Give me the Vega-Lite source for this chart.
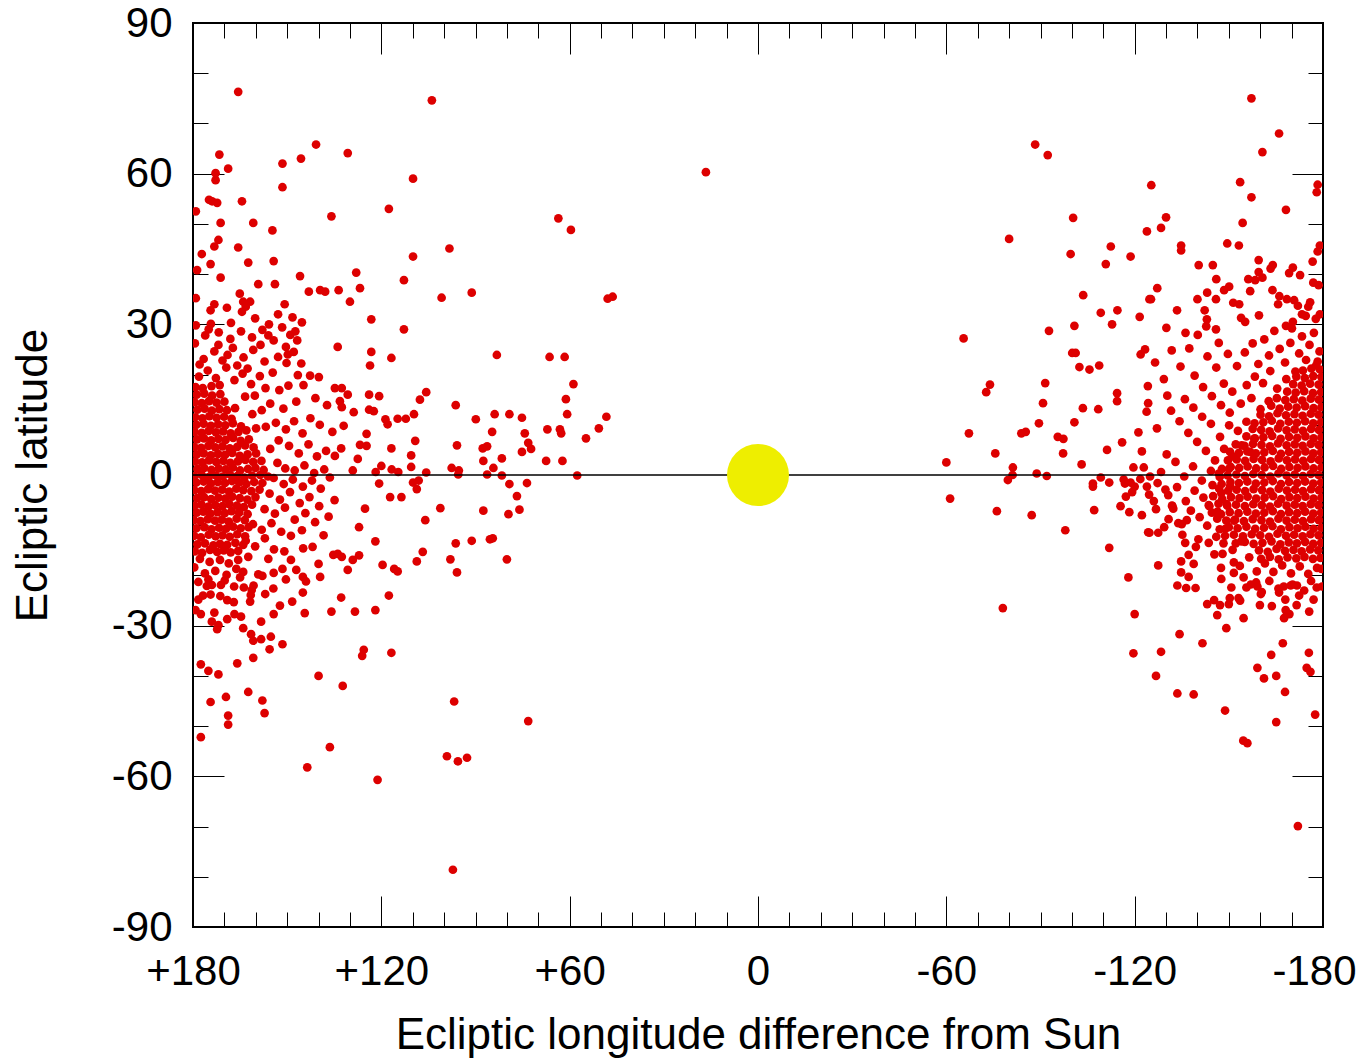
{
"$schema":"https://vega.github.io/schema/vega-lite/v6.json",
"width":1130,"height":904,
"autosize":"none",
"padding":{"left":193,"top":23,"right":41,"bottom":133},
"background":"white",
"config":{"view":{"stroke":"#000","strokeWidth":2},"axis":{"grid":false,"domain":false,"tickColor":"#000","tickWidth":1,"labelFont":"Liberation Sans","labelFontSize":42,"labelColor":"#000","titleFont":"Liberation Sans","titleFontSize":44,"titleFontWeight":"normal","titleColor":"#000","labelOverlap":false,"labelFlush":false}},
"resolve":{"axis":{"x":"independent","y":"independent"}},
"layer":[
{"data":{"values":[
{"lon":165.6,"lat":76.3},{"lon":103.9,"lat":74.6},{"lon":171.6,"lat":63.8},{"lon":140.8,"lat":65.8},{"lon":130.7,"lat":64.1},{"lon":145.6,"lat":63.0},{"lon":151.5,"lat":62.0},{"lon":172.8,"lat":60.1},{"lon":172.8,"lat":58.7},{"lon":168.8,"lat":61.0},{"lon":109.9,"lat":59.0},{"lon":151.5,"lat":57.3},{"lon":174.9,"lat":54.8},{"lon":173.9,"lat":54.5},{"lon":172.3,"lat":54.2},{"lon":164.4,"lat":54.5},{"lon":179.1,"lat":52.5},{"lon":135.9,"lat":51.5},{"lon":117.6,"lat":53.0},{"lon":171.2,"lat":50.2},{"lon":160.8,"lat":50.2},{"lon":154.7,"lat":48.7},{"lon":171.9,"lat":46.8},{"lon":173.2,"lat":45.5},{"lon":165.6,"lat":45.3},{"lon":177.2,"lat":44.0},{"lon":174.4,"lat":42.0},{"lon":162.4,"lat":42.3},{"lon":154.3,"lat":42.6},{"lon":109.9,"lat":43.5},{"lon":178.7,"lat":40.8},{"lon":171.2,"lat":39.3},{"lon":145.9,"lat":39.6},{"lon":128.0,"lat":40.3},{"lon":112.8,"lat":38.8},{"lon":159.2,"lat":38.0},{"lon":153.9,"lat":38.0},{"lon":143.1,"lat":36.5},{"lon":139.5,"lat":36.8},{"lon":137.9,"lat":36.5},{"lon":133.6,"lat":36.8},{"lon":126.8,"lat":37.2},{"lon":165.1,"lat":36.1},{"lon":179.1,"lat":35.2},{"lon":164.0,"lat":34.5},{"lon":161.8,"lat":34.5},{"lon":163.2,"lat":33.5},{"lon":173.2,"lat":34.0},{"lon":174.4,"lat":32.8},{"lon":169.2,"lat":33.3},{"lon":164.4,"lat":32.5},{"lon":150.8,"lat":34.0},{"lon":130.0,"lat":34.5},{"lon":123.2,"lat":31.0},{"lon":112.8,"lat":29.0},{"lon":133.9,"lat":25.5},{"lon":123.2,"lat":24.5},{"lon":123.6,"lat":21.8},{"lon":116.8,"lat":23.3},{"lon":146.8,"lat":26.8},{"lon":150.4,"lat":25.5},{"lon":149.8,"lat":24.0},{"lon":147.9,"lat":24.5},{"lon":145.5,"lat":22.2},{"lon":142.7,"lat":19.8},{"lon":139.9,"lat":19.5},{"lon":105.7,"lat":16.5},{"lon":107.7,"lat":15.0},{"lon":134.8,"lat":17.3},{"lon":132.6,"lat":17.3},{"lon":130.7,"lat":16.0},{"lon":123.9,"lat":16.0},{"lon":120.7,"lat":15.7},{"lon":133.2,"lat":14.7},{"lon":132.6,"lat":13.5},{"lon":128.8,"lat":12.5},{"lon":123.9,"lat":13.0},{"lon":122.4,"lat":12.7},{"lon":118.7,"lat":11.1},{"lon":118.0,"lat":10.1},{"lon":114.8,"lat":11.2},{"lon":112.2,"lat":11.2},{"lon":109.6,"lat":12.1},{"lon":132.0,"lat":9.8},{"lon":124.7,"lat":8.2},{"lon":109.2,"lat":6.8},{"lon":126.8,"lat":6.0},{"lon":124.7,"lat":5.8},{"lon":116.8,"lat":5.3},{"lon":132.8,"lat":5.3},{"lon":110.5,"lat":3.9},{"lon":134.8,"lat":3.8},{"lon":127.5,"lat":3.2},{"lon":120.0,"lat":1.8},{"lon":116.7,"lat":1.1},{"lon":114.6,"lat":0.6},{"lon":110.5,"lat":1.6},{"lon":129.1,"lat":0.9},{"lon":121.8,"lat":0.6},{"lon":105.7,"lat":0.5},
{"lon":120.7,"lat":-1.7},{"lon":109.9,"lat":-1.5},{"lon":108.1,"lat":-1.1},{"lon":108.7,"lat":-2.8},{"lon":117.2,"lat":-4.4},{"lon":113.6,"lat":-4.4},{"lon":125.2,"lat":-6.7},{"lon":106.0,"lat":-9.0},{"lon":127.1,"lat":-10.4},{"lon":121.9,"lat":-13.2},{"lon":106.8,"lat":-15.3},{"lon":108.7,"lat":-17.2},{"lon":119.6,"lat":-17.9},{"lon":115.9,"lat":-18.7},{"lon":114.8,"lat":-19.2},{"lon":135.3,"lat":-15.9},{"lon":133.9,"lat":-15.7},{"lon":132.6,"lat":-16.3},{"lon":129.1,"lat":-16.9},{"lon":127.1,"lat":-16.0},{"lon":130.7,"lat":-18.9},{"lon":140.0,"lat":-17.7},{"lon":139.5,"lat":-20.3},{"lon":145.0,"lat":-20.3},{"lon":144.0,"lat":-21.2},{"lon":145.0,"lat":-23.4},{"lon":148.4,"lat":-25.2},{"lon":132.8,"lat":-24.4},{"lon":117.6,"lat":-24.0},{"lon":144.4,"lat":-27.5},{"lon":135.9,"lat":-27.2},{"lon":128.4,"lat":-27.2},{"lon":121.9,"lat":-26.9},{"lon":148.8,"lat":-16.9},{"lon":151.5,"lat":-18.7},{"lon":154.3,"lat":-19.5},{"lon":156.0,"lat":-16.7},{"lon":159.2,"lat":-19.8},{"lon":157.9,"lat":-20.1},{"lon":164.0,"lat":-19.3},{"lon":165.0,"lat":-20.4},{"lon":160.7,"lat":-22.0},{"lon":161.3,"lat":-22.9},{"lon":161.6,"lat":-23.9},{"lon":161.8,"lat":-25.2},{"lon":169.9,"lat":-21.0},{"lon":171.1,"lat":-21.9},{"lon":175.6,"lat":-22.1},{"lon":174.0,"lat":-21.9},{"lon":174.4,"lat":-23.8},{"lon":178.3,"lat":-24.8},{"lon":169.1,"lat":-24.9},{"lon":177.5,"lat":-27.7},{"lon":173.2,"lat":-27.4},{"lon":174.0,"lat":-29.2},{"lon":171.9,"lat":-29.9},{"lon":172.3,"lat":-30.7},{"lon":169.1,"lat":-28.7},{"lon":166.8,"lat":-27.7},{"lon":164.7,"lat":-28.2},{"lon":158.3,"lat":-29.2},{"lon":154.3,"lat":-27.7},{"lon":164.0,"lat":-30.5},{"lon":161.5,"lat":-31.7},{"lon":160.8,"lat":-33.0},{"lon":158.3,"lat":-32.7},{"lon":155.2,"lat":-32.2},{"lon":151.5,"lat":-33.7},{"lon":155.6,"lat":-34.7},{"lon":160.8,"lat":-36.4},{"lon":165.9,"lat":-37.5},{"lon":177.5,"lat":-37.7},{"lon":175.1,"lat":-39.0},{"lon":171.9,"lat":-39.7},{"lon":140.0,"lat":-40.0},{"lon":132.3,"lat":-42.0},{"lon":125.6,"lat":-34.8},{"lon":126.1,"lat":-36.0},{"lon":116.8,"lat":-35.4},{"lon":162.4,"lat":-43.2},{"lon":157.9,"lat":-44.9},{"lon":157.2,"lat":-47.4},{"lon":169.5,"lat":-44.2},{"lon":174.4,"lat":-45.2},{"lon":168.8,"lat":-47.9},{"lon":168.8,"lat":-49.7},{"lon":177.5,"lat":-52.2},{"lon":136.4,"lat":-54.2},{"lon":143.6,"lat":-58.2},{"lon":121.2,"lat":-60.7},
{"lon":63.6,"lat":51.1},{"lon":59.6,"lat":48.8},{"lon":98.3,"lat":45.1},{"lon":100.8,"lat":35.3},{"lon":91.2,"lat":36.3},{"lon":47.9,"lat":35.1},{"lon":46.3,"lat":35.5},{"lon":83.2,"lat":23.9},{"lon":66.4,"lat":23.5},{"lon":61.6,"lat":23.5},{"lon":58.8,"lat":18.1},{"lon":96.3,"lat":13.9},{"lon":61.2,"lat":15.1},{"lon":60.8,"lat":12.1},{"lon":89.9,"lat":11.1},{"lon":83.9,"lat":12.1},{"lon":79.2,"lat":12.1},{"lon":75.2,"lat":11.4},{"lon":84.7,"lat":8.6},{"lon":74.3,"lat":8.3},{"lon":67.1,"lat":9.1},{"lon":63.1,"lat":9.1},{"lon":62.7,"lat":8.3},{"lon":48.3,"lat":11.6},{"lon":50.7,"lat":9.3},{"lon":54.8,"lat":7.3},{"lon":95.9,"lat":5.9},{"lon":87.7,"lat":5.3},{"lon":86.3,"lat":5.7},{"lon":73.2,"lat":6.4},{"lon":72.3,"lat":5.2},{"lon":75.2,"lat":4.6},{"lon":87.5,"lat":2.8},{"lon":81.6,"lat":3.3},{"lon":67.5,"lat":2.8},{"lon":62.3,"lat":2.8},{"lon":97.6,"lat":1.4},{"lon":95.3,"lat":0.9},{"lon":95.5,"lat":0.1},{"lon":84.3,"lat":1.4},{"lon":86.3,"lat":0.1},{"lon":81.6,"lat":-0.1},{"lon":57.6,"lat":-0.1},{"lon":79.2,"lat":-1.8},{"lon":73.6,"lat":-1.6},{"lon":76.8,"lat":-4.2},{"lon":76.0,"lat":-6.9},{"lon":101.2,"lat":-6.6},{"lon":87.5,"lat":-7.1},{"lon":79.5,"lat":-7.8},{"lon":96.3,"lat":-13.6},{"lon":91.2,"lat":-13.1},{"lon":85.4,"lat":-12.8},{"lon":84.5,"lat":-12.6},{"lon":98.0,"lat":-16.8},{"lon":95.9,"lat":-19.4},{"lon":80.0,"lat":-16.8},{"lon":96.8,"lat":-45.1},{"lon":73.2,"lat":-49.0},{"lon":99.1,"lat":-56.0},{"lon":95.6,"lat":-57.0},{"lon":92.7,"lat":-56.3},{"lon":97.2,"lat":-78.6},{"lon":16.6,"lat":60.3},
{"lon":-88.3,"lat":65.8},{"lon":-92.3,"lat":63.7},{"lon":-125.3,"lat":57.7},{"lon":-100.4,"lat":51.2},{"lon":-80.0,"lat":47.0},{"lon":-123.9,"lat":48.5},{"lon":-99.6,"lat":44.0},{"lon":-110.8,"lat":42.0},{"lon":-112.4,"lat":45.5},{"lon":-118.7,"lat":43.5},{"lon":-103.6,"lat":35.8},{"lon":-124.7,"lat":35.0},{"lon":-109.2,"lat":32.3},{"lon":-114.5,"lat":32.8},{"lon":-112.8,"lat":30.0},{"lon":-121.6,"lat":31.5},{"lon":-100.8,"lat":29.7},{"lon":-92.7,"lat":28.7},{"lon":-65.5,"lat":27.2},{"lon":-100.1,"lat":24.3},{"lon":-101.2,"lat":24.3},{"lon":-102.4,"lat":21.5},{"lon":-105.6,"lat":21.0},{"lon":-108.7,"lat":21.8},{"lon":-121.9,"lat":24.0},{"lon":-123.3,"lat":25.0},{"lon":-73.9,"lat":18.0},{"lon":-72.7,"lat":16.5},{"lon":-91.5,"lat":18.3},{"lon":-90.8,"lat":14.3},{"lon":-114.4,"lat":16.3},{"lon":-114.4,"lat":14.7},{"lon":-103.5,"lat":13.3},{"lon":-108.4,"lat":13.1},{"lon":-124.3,"lat":14.3},{"lon":-123.8,"lat":12.6},{"lon":-67.2,"lat":8.3},{"lon":-83.9,"lat":8.3},{"lon":-85.3,"lat":8.6},{"lon":-89.5,"lat":10.3},{"lon":-100.8,"lat":10.5},{"lon":-95.5,"lat":7.6},{"lon":-97.3,"lat":7.2},{"lon":-121.2,"lat":8.5},{"lon":-116.0,"lat":6.5},{"lon":-75.6,"lat":4.3},{"lon":-97.2,"lat":4.3},{"lon":-111.2,"lat":5.0},{"lon":-122.3,"lat":4.7},{"lon":-60.0,"lat":2.5},{"lon":-81.2,"lat":1.5},{"lon":-81.1,"lat":0.0},{"lon":-79.6,"lat":-1.0},{"lon":-88.8,"lat":0.3},{"lon":-92.0,"lat":-0.2},{"lon":-103.1,"lat":2.1},{"lon":-109.2,"lat":-0.5},{"lon":-111.9,"lat":-1.5},{"lon":-106.7,"lat":-1.7},{"lon":-106.7,"lat":-2.3},{"lon":-119.6,"lat":1.5},{"lon":-122.9,"lat":1.5},{"lon":-124.9,"lat":-0.3},{"lon":-116.9,"lat":-1.7},{"lon":-118.7,"lat":-1.5},{"lon":-120.0,"lat":-2.3},{"lon":-117.2,"lat":-4.3},{"lon":-115.5,"lat":-6.2},{"lon":-118.3,"lat":-7.4},{"lon":-122.3,"lat":-8.0},{"lon":-124.3,"lat":-11.4},{"lon":-123.9,"lat":-2.3},{"lon":-61.2,"lat":-4.7},{"lon":-76.1,"lat":-7.2},{"lon":-87.2,"lat":-8.0},{"lon":-107.1,"lat":-7.0},{"lon":-97.9,"lat":-11.0},{"lon":-111.9,"lat":-14.5},{"lon":-118.0,"lat":-20.4},{"lon":-78.0,"lat":-26.5},{"lon":-120.0,"lat":-27.7},{"lon":-119.6,"lat":-35.5},
{"lon":-157.2,"lat":75.0},{"lon":-166.0,"lat":68.0},{"lon":-160.7,"lat":64.3},{"lon":-153.6,"lat":58.3},{"lon":-157.2,"lat":55.3},{"lon":-178.3,"lat":57.8},{"lon":-178.0,"lat":56.3},{"lon":-168.2,"lat":52.8},{"lon":-130.0,"lat":51.3},{"lon":-128.4,"lat":49.2},{"lon":-154.4,"lat":50.2},{"lon":-134.8,"lat":45.7},{"lon":-134.8,"lat":44.7},{"lon":-149.5,"lat":46.1},{"lon":-153.2,"lat":45.7},{"lon":-179.0,"lat":45.7},{"lon":-178.3,"lat":44.5},{"lon":-176.7,"lat":42.5},{"lon":-159.5,"lat":42.8},{"lon":-163.3,"lat":41.1},{"lon":-164.0,"lat":41.8},{"lon":-140.4,"lat":41.8},{"lon":-144.9,"lat":41.8},{"lon":-146.0,"lat":39.0},{"lon":-156.2,"lat":39.0},{"lon":-158.4,"lat":38.8},{"lon":-159.5,"lat":40.4},{"lon":-160.7,"lat":39.3},{"lon":-169.2,"lat":40.2},{"lon":-170.4,"lat":41.3},{"lon":-172.7,"lat":39.8},{"lon":-176.9,"lat":38.3},{"lon":-178.6,"lat":37.8},{"lon":-127.2,"lat":37.2},{"lon":-125.2,"lat":35.0},{"lon":-140.0,"lat":35.0},{"lon":-143.1,"lat":36.3},{"lon":-145.9,"lat":35.0},{"lon":-148.5,"lat":36.8},{"lon":-150.1,"lat":37.5},{"lon":-156.8,"lat":36.6},{"lon":-163.9,"lat":36.8},{"lon":-166.1,"lat":35.6},{"lon":-165.7,"lat":34.0},{"lon":-168.5,"lat":35.0},{"lon":-170.8,"lat":34.8},{"lon":-172.0,"lat":33.7},{"lon":-175.9,"lat":34.4},{"lon":-175.3,"lat":33.5},{"lon":-133.5,"lat":32.8},{"lon":-142.3,"lat":32.8},{"lon":-143.0,"lat":31.0},{"lon":-151.4,"lat":34.3},{"lon":-153.3,"lat":34.0},{"lon":-153.9,"lat":31.3},{"lon":-155.2,"lat":30.5},{"lon":-159.6,"lat":31.8},{"lon":-173.3,"lat":32.0},{"lon":-174.5,"lat":31.7},{"lon":-177.7,"lat":31.1},{"lon":-179.0,"lat":32.0},{"lon":-130.1,"lat":29.3},{"lon":-145.9,"lat":29.0},{"lon":-168.2,"lat":29.7},{"lon":-170.4,"lat":30.5},
{"lon":-127.5,"lat":-18.0},{"lon":-128.4,"lat":-35.2},{"lon":-134.3,"lat":-31.7},{"lon":-141.6,"lat":-33.5},{"lon":-126.8,"lat":-40.0},{"lon":-133.6,"lat":-43.5},{"lon":-138.8,"lat":-43.7},{"lon":-148.8,"lat":-46.9},{"lon":-154.6,"lat":-52.9},{"lon":-155.9,"lat":-53.4},{"lon":-165.1,"lat":-49.2},{"lon":-167.9,"lat":-43.2},{"lon":-159.1,"lat":-38.4},{"lon":-161.2,"lat":-40.5},{"lon":-165.1,"lat":-40.0},{"lon":-163.5,"lat":-35.8},{"lon":-167.2,"lat":-33.5},{"lon":-175.5,"lat":-35.4},{"lon":-174.8,"lat":-38.4},{"lon":-176.0,"lat":-39.2},{"lon":-177.5,"lat":-47.7},{"lon":-172.0,"lat":-69.9},{"lon":-146.3,"lat":-27.9},{"lon":-149.2,"lat":-30.5},{"lon":-154.7,"lat":-28.5},{"lon":-143.1,"lat":-25.7},{"lon":-145.3,"lat":-24.9},{"lon":-147.2,"lat":-25.9},{"lon":-150.0,"lat":-25.7},{"lon":-159.9,"lat":-25.9},{"lon":-167.6,"lat":-28.5},{"lon":-169.3,"lat":-27.7},{"lon":-168.1,"lat":-26.9},{"lon":-171.6,"lat":-25.9},{"lon":-172.4,"lat":-24.0},{"lon":-133.6,"lat":-22.0},{"lon":-136.4,"lat":-22.5},{"lon":-139.4,"lat":-22.5},{"lon":-137.2,"lat":-20.3},{"lon":-134.8,"lat":-19.4},{"lon":-134.8,"lat":-17.2},{"lon":-138.8,"lat":-17.7},{"lon":-137.2,"lat":-15.9},{"lon":-147.5,"lat":-18.5},{"lon":-147.6,"lat":-20.7},{"lon":-148.0,"lat":-15.7},{"lon":-151.6,"lat":-17.4},{"lon":-151.6,"lat":-19.5},{"lon":-150.8,"lat":-22.4},{"lon":-155.6,"lat":-22.4},{"lon":-154.7,"lat":-20.4},{"lon":-153.1,"lat":-24.5},{"lon":-150.3,"lat":-24.5},{"lon":-153.6,"lat":-25.0},{"lon":-159.1,"lat":-22.2},{"lon":-160.2,"lat":-23.7},{"lon":-158.7,"lat":-21.4},{"lon":-143.6,"lat":-13.5},{"lon":-139.5,"lat":-14.3},{"lon":-135.2,"lat":-11.9},{"lon":-136.1,"lat":-13.5},{"lon":-124.7,"lat":-11.5},{"lon":-127.5,"lat":-11.5},{"lon":-129.4,"lat":-10.4},{"lon":-130.8,"lat":-8.8},{"lon":-133.9,"lat":-9.6},{"lon":-136.6,"lat":-9.0},{"lon":-126.8,"lat":-6.8},{"lon":-132.0,"lat":-6.2},{"lon":-166.0,"lat":-23.4},{"lon":-168.0,"lat":-24.8},{"lon":-167.5,"lat":-22.2},{"lon":-169.7,"lat":-22.0},{"lon":-171.7,"lat":-22.0},{"lon":-176.2,"lat":-21.1},{"lon":-178.0,"lat":-22.4},{"lon":-179.7,"lat":-22.2},{"lon":-179.5,"lat":-18.7},
{"lon":179.4,"lat":-15.2},{"lon":177.1,"lat":-15.5},{"lon":174.6,"lat":-14.9},{"lon":172.3,"lat":-15.3},{"lon":170.2,"lat":-15.0},{"lon":168.0,"lat":-15.4},{"lon":165.6,"lat":-15.1},
{"lon":178.6,"lat":-13.8},{"lon":176.2,"lat":-13.6},{"lon":173.5,"lat":-14.0},{"lon":171.4,"lat":-13.7},{"lon":169.1,"lat":-13.9},{"lon":166.5,"lat":-13.5},{"lon":164.0,"lat":-13.9},
{"lon":179.6,"lat":-12.1},{"lon":177.5,"lat":-12.4},{"lon":175.0,"lat":-11.9},{"lon":172.8,"lat":-12.2},{"lon":170.6,"lat":-12.0},{"lon":168.3,"lat":-12.3},{"lon":165.9,"lat":-11.8},{"lon":163.4,"lat":-12.2},
{"lon":178.9,"lat":-10.6},{"lon":176.4,"lat":-10.4},{"lon":174.1,"lat":-10.8},{"lon":171.7,"lat":-10.5},{"lon":169.5,"lat":-10.7},{"lon":167.2,"lat":-10.3},{"lon":164.8,"lat":-10.6},{"lon":162.3,"lat":-10.4},
{"lon":179.7,"lat":-9.0},{"lon":177.6,"lat":-9.2},{"lon":175.3,"lat":-8.8},{"lon":173.0,"lat":-9.1},{"lon":170.8,"lat":-8.9},{"lon":168.6,"lat":-9.3},{"lon":166.1,"lat":-8.7},{"lon":163.5,"lat":-9.0},
{"lon":178.8,"lat":-7.5},{"lon":176.7,"lat":-7.3},{"lon":174.5,"lat":-7.7},{"lon":172.2,"lat":-7.4},{"lon":169.9,"lat":-7.6},{"lon":167.7,"lat":-7.2},{"lon":165.3,"lat":-7.5},{"lon":162.6,"lat":-7.8},
{"lon":179.5,"lat":-6.1},{"lon":177.3,"lat":-5.9},{"lon":175.1,"lat":-6.3},{"lon":172.9,"lat":-6.0},{"lon":170.6,"lat":-6.2},{"lon":168.4,"lat":-5.8},{"lon":166.0,"lat":-6.1},{"lon":163.8,"lat":-6.4},{"lon":161.2,"lat":-5.9},
{"lon":178.7,"lat":-4.6},{"lon":176.5,"lat":-4.4},{"lon":174.2,"lat":-4.8},{"lon":171.9,"lat":-4.5},{"lon":169.7,"lat":-4.7},{"lon":167.5,"lat":-4.3},{"lon":165.1,"lat":-4.6},{"lon":162.7,"lat":-4.9},{"lon":160.1,"lat":-4.4},
{"lon":179.6,"lat":-3.0},{"lon":177.4,"lat":-3.2},{"lon":175.2,"lat":-2.8},{"lon":173.0,"lat":-3.1},{"lon":170.7,"lat":-2.9},{"lon":168.5,"lat":-3.3},{"lon":166.2,"lat":-2.7},{"lon":164.0,"lat":-3.0},{"lon":161.4,"lat":-3.2},{"lon":158.8,"lat":-2.9},
{"lon":178.9,"lat":-1.5},{"lon":176.6,"lat":-1.3},{"lon":174.3,"lat":-1.7},{"lon":172.1,"lat":-1.4},{"lon":169.8,"lat":-1.6},{"lon":167.6,"lat":-1.2},{"lon":165.3,"lat":-1.5},{"lon":163.0,"lat":-1.8},{"lon":160.5,"lat":-1.4},{"lon":157.9,"lat":-1.6},
{"lon":179.5,"lat":-0.2},{"lon":177.2,"lat":0.0},{"lon":175.0,"lat":-0.4},{"lon":172.7,"lat":-0.1},{"lon":170.5,"lat":-0.3},{"lon":168.2,"lat":0.1},{"lon":165.9,"lat":-0.2},{"lon":163.6,"lat":-0.5},{"lon":161.2,"lat":-0.1},{"lon":158.6,"lat":0.0},{"lon":156.1,"lat":-0.3},
{"lon":178.6,"lat":1.2},{"lon":176.4,"lat":1.4},{"lon":174.1,"lat":1.0},{"lon":171.8,"lat":1.3},{"lon":169.6,"lat":1.1},{"lon":167.3,"lat":1.5},{"lon":165.0,"lat":0.9},{"lon":162.5,"lat":1.2},{"lon":160.1,"lat":1.4},{"lon":157.5,"lat":1.0},
{"lon":179.4,"lat":2.7},{"lon":177.1,"lat":2.5},{"lon":174.9,"lat":2.9},{"lon":172.6,"lat":2.6},{"lon":170.3,"lat":2.8},{"lon":168.1,"lat":2.4},{"lon":165.7,"lat":2.7},{"lon":163.3,"lat":3.0},{"lon":160.8,"lat":2.6},{"lon":158.2,"lat":2.8},
{"lon":178.8,"lat":4.1},{"lon":176.6,"lat":4.3},{"lon":174.3,"lat":3.9},{"lon":172.0,"lat":4.2},{"lon":169.8,"lat":4.0},{"lon":167.5,"lat":4.4},{"lon":165.1,"lat":3.8},{"lon":162.6,"lat":4.1},{"lon":159.9,"lat":4.3},
{"lon":179.6,"lat":5.6},{"lon":177.4,"lat":5.4},{"lon":175.1,"lat":5.8},{"lon":172.9,"lat":5.5},{"lon":170.6,"lat":5.7},{"lon":168.3,"lat":5.3},{"lon":165.9,"lat":5.6},{"lon":163.4,"lat":5.9},{"lon":160.7,"lat":5.5},
{"lon":178.7,"lat":7.1},{"lon":176.5,"lat":7.3},{"lon":174.2,"lat":6.9},{"lon":171.9,"lat":7.2},{"lon":169.6,"lat":7.0},{"lon":167.2,"lat":7.4},{"lon":164.8,"lat":6.8},{"lon":162.2,"lat":7.1},
{"lon":179.5,"lat":8.6},{"lon":177.2,"lat":8.4},{"lon":175.0,"lat":8.8},{"lon":172.7,"lat":8.5},{"lon":170.4,"lat":8.7},{"lon":168.0,"lat":8.3},{"lon":165.5,"lat":8.6},{"lon":163.0,"lat":8.9},
{"lon":178.9,"lat":10.0},{"lon":176.6,"lat":10.2},{"lon":174.3,"lat":9.8},{"lon":172.0,"lat":10.1},{"lon":169.7,"lat":9.9},{"lon":167.3,"lat":10.3},{"lon":164.7,"lat":9.7},
{"lon":179.3,"lat":11.5},{"lon":177.0,"lat":11.3},{"lon":174.8,"lat":11.7},{"lon":172.5,"lat":11.4},{"lon":170.1,"lat":11.6},{"lon":167.7,"lat":11.2},
{"lon":178.6,"lat":13.0},{"lon":176.3,"lat":13.2},{"lon":174.0,"lat":12.8},{"lon":171.6,"lat":13.1},{"lon":169.2,"lat":12.9},{"lon":166.6,"lat":13.3},
{"lon":179.5,"lat":14.5},{"lon":177.2,"lat":14.3},{"lon":174.9,"lat":14.7},{"lon":172.5,"lat":14.4},{"lon":170.0,"lat":14.6},
{"lon":178.8,"lat":16.0},{"lon":176.4,"lat":16.2},{"lon":173.9,"lat":15.8},{"lon":171.3,"lat":16.1},
{"lon":179.2,"lat":17.5},{"lon":176.9,"lat":17.3},{"lon":174.1,"lat":17.7},{"lon":171.5,"lat":17.9},
{"lon":178.1,"lat":19.6},{"lon":175.3,"lat":20.8},{"lon":172.7,"lat":19.3},{"lon":169.4,"lat":21.4},{"lon":166.8,"lat":18.9},{"lon":164.2,"lat":20.2},{"lon":161.5,"lat":18.1},{"lon":158.7,"lat":19.7},{"lon":176.6,"lat":23.1},{"lon":173.2,"lat":24.6},{"lon":170.6,"lat":22.8},{"lon":167.3,"lat":25.3},{"lon":163.9,"lat":23.4},{"lon":160.8,"lat":24.9},{"lon":157.2,"lat":22.6},{"lon":154.6,"lat":20.4},{"lon":179.4,"lat":26.2},{"lon":176.1,"lat":27.8},{"lon":171.8,"lat":28.4},{"lon":168.1,"lat":27.1},{"lon":164.7,"lat":28.6},{"lon":161.2,"lat":27.4},{"lon":157.9,"lat":28.9},{"lon":154.3,"lat":26.8},{"lon":151.6,"lat":29.4},{"lon":179.1,"lat":29.8},{"lon":174.3,"lat":30.1},{"lon":167.9,"lat":30.3},{"lon":155.8,"lat":30.0},{"lon":160.2,"lat":31.2},{"lon":150.2,"lat":22.3},{"lon":152.5,"lat":16.9},{"lon":155.4,"lat":14.2},{"lon":158.1,"lat":12.9},{"lon":161.1,"lat":12.1},{"lon":163.4,"lat":15.6},{"lon":160.3,"lat":15.8},{"lon":156.9,"lat":17.3},{"lon":149.6,"lat":17.8},{"lon":147.1,"lat":14.6},{"lon":151.2,"lat":13.2},{"lon":153.6,"lat":10.4},{"lon":156.8,"lat":9.6},{"lon":159.9,"lat":9.3},{"lon":150.4,"lat":9.1},{"lon":147.8,"lat":10.7},{"lon":145.1,"lat":8.3},{"lon":142.6,"lat":11.3},{"lon":152.7,"lat":6.9},{"lon":155.4,"lat":5.2},{"lon":149.4,"lat":5.8},{"lon":146.3,"lat":4.3},{"lon":143.2,"lat":6.1},{"lon":140.5,"lat":3.7},{"lon":153.1,"lat":2.4},{"lon":150.6,"lat":1.3},{"lon":147.6,"lat":0.9},{"lon":144.5,"lat":1.9},{"lon":141.4,"lat":0.4},{"lon":138.2,"lat":1.1},{"lon":154.3,"lat":-0.6},{"lon":151.1,"lat":-1.8},{"lon":148.2,"lat":-0.9},{"lon":145.0,"lat":-2.3},{"lon":142.1,"lat":-1.1},{"lon":139.3,"lat":-2.7},{"lon":136.4,"lat":-0.5},{"lon":155.6,"lat":-3.7},{"lon":152.3,"lat":-4.9},{"lon":149.1,"lat":-3.4},{"lon":146.0,"lat":-5.6},{"lon":142.9,"lat":-4.4},{"lon":139.8,"lat":-6.2},{"lon":157.2,"lat":-6.8},{"lon":153.9,"lat":-7.7},{"lon":150.7,"lat":-6.5},{"lon":147.6,"lat":-8.9},{"lon":144.2,"lat":-7.6},{"lon":141.1,"lat":-9.4},{"lon":160.9,"lat":-9.8},{"lon":158.1,"lat":-10.9},{"lon":155.0,"lat":-9.6},{"lon":151.9,"lat":-11.3},{"lon":148.8,"lat":-12.1},{"lon":145.3,"lat":-11.0},{"lon":163.2,"lat":-13.1},{"lon":160.2,"lat":-14.2},{"lon":157.1,"lat":-12.6},{"lon":154.2,"lat":-14.8},{"lon":150.9,"lat":-15.2},{"lon":165.6,"lat":-16.9},{"lon":162.4,"lat":-16.3},{"lon":168.6,"lat":-17.6},{"lon":171.4,"lat":-16.9},{"lon":174.7,"lat":-17.3},{"lon":177.8,"lat":-16.7},{"lon":179.6,"lat":-18.4},{"lon":176.2,"lat":-19.6},{"lon":172.9,"lat":-19.1},{"lon":169.3,"lat":-19.9},{"lon":166.2,"lat":-18.7},{"lon":178.3,"lat":-21.3},{"lon":175.1,"lat":-20.8},
{"lon":177.9,"lat":22.0},{"lon":171.9,"lat":25.9},{"lon":165.9,"lat":21.8},{"lon":162.6,"lat":21.2},{"lon":169.0,"lat":23.9},{"lon":175.0,"lat":29.0},{"lon":158.5,"lat":25.9},{"lon":156.0,"lat":27.8},{"lon":152.9,"lat":23.5},{"lon":149.0,"lat":27.9},{"lon":147.4,"lat":28.6},{"lon":145.3,"lat":30.4},{"lon":152.9,"lat":32.0},{"lon":148.3,"lat":31.4},{"lon":163.8,"lat":-22.4},{"lon":166.9,"lat":-22.2},{"lon":171.3,"lat":-24.1},{"lon":176.8,"lat":-24.0},{"lon":179.2,"lat":-26.9},{"lon":167.0,"lat":-25.3},{"lon":157.0,"lat":-23.7},{"lon":154.4,"lat":-22.6},{"lon":150.4,"lat":-20.8},{"lon":152.3,"lat":-26.0},{"lon":147.1,"lat":-18.9},{"lon":141.9,"lat":-14.3},{"lon":138.4,"lat":-12.0},{"lon":144.9,"lat":-14.6},{"lon":136.8,"lat":-8.3},{"lon":134.9,"lat":-5.0},{"lon":137.6,"lat":4.8},{"lon":135.6,"lat":8.6},{"lon":139.6,"lat":10.0},{"lon":137.3,"lat":13.9},{"lon":141.0,"lat":15.3},{"lon":144.8,"lat":17.9},{"lon":146.6,"lat":19.9},
{"lon":-179.2,"lat":-16.5},{"lon":-176.8,"lat":-16.7},{"lon":-174.1,"lat":-16.3},{"lon":-171.5,"lat":-16.6},{"lon":-168.7,"lat":-16.4},{"lon":-165.9,"lat":-16.8},{"lon":-163.1,"lat":-16.3},{"lon":-160.3,"lat":-16.7},
{"lon":-178.5,"lat":-15.0},{"lon":-175.9,"lat":-14.8},{"lon":-173.2,"lat":-15.2},{"lon":-170.6,"lat":-14.9},{"lon":-167.9,"lat":-15.1},{"lon":-165.2,"lat":-14.7},{"lon":-162.4,"lat":-15.3},{"lon":-159.6,"lat":-15.0},
{"lon":-179.4,"lat":-13.5},{"lon":-176.9,"lat":-13.7},{"lon":-174.3,"lat":-13.3},{"lon":-171.7,"lat":-13.6},{"lon":-169.1,"lat":-13.4},{"lon":-166.4,"lat":-13.8},{"lon":-163.6,"lat":-13.2},{"lon":-160.7,"lat":-13.5},{"lon":-157.9,"lat":-13.7},{"lon":-155.1,"lat":-13.3},{"lon":-152.2,"lat":-13.6},
{"lon":-178.6,"lat":-12.0},{"lon":-176.0,"lat":-11.8},{"lon":-173.5,"lat":-12.2},{"lon":-170.8,"lat":-11.9},{"lon":-168.2,"lat":-12.1},{"lon":-165.5,"lat":-11.7},{"lon":-162.8,"lat":-12.3},{"lon":-160.0,"lat":-12.0},{"lon":-157.3,"lat":-11.8},{"lon":-154.5,"lat":-12.2},{"lon":-151.6,"lat":-11.9},{"lon":-148.8,"lat":-12.1},
{"lon":-179.5,"lat":-10.5},{"lon":-177.0,"lat":-10.7},{"lon":-174.4,"lat":-10.3},{"lon":-171.9,"lat":-10.6},{"lon":-169.3,"lat":-10.4},{"lon":-166.6,"lat":-10.8},{"lon":-163.9,"lat":-10.2},{"lon":-161.2,"lat":-10.5},{"lon":-158.4,"lat":-10.7},{"lon":-155.6,"lat":-10.3},{"lon":-152.8,"lat":-10.6},{"lon":-150.0,"lat":-10.4},{"lon":-147.1,"lat":-10.8},
{"lon":-178.7,"lat":-9.0},{"lon":-176.2,"lat":-8.8},{"lon":-173.6,"lat":-9.2},{"lon":-171.0,"lat":-8.9},{"lon":-168.4,"lat":-9.1},{"lon":-165.8,"lat":-8.7},{"lon":-163.1,"lat":-9.3},{"lon":-160.4,"lat":-9.0},{"lon":-157.6,"lat":-8.8},{"lon":-154.8,"lat":-9.2},{"lon":-152.0,"lat":-8.9},{"lon":-149.2,"lat":-9.1},{"lon":-146.3,"lat":-8.7},
{"lon":-179.4,"lat":-7.5},{"lon":-176.9,"lat":-7.7},{"lon":-174.3,"lat":-7.3},{"lon":-171.8,"lat":-7.6},{"lon":-169.2,"lat":-7.4},{"lon":-166.6,"lat":-7.8},{"lon":-164.0,"lat":-7.2},{"lon":-161.3,"lat":-7.5},{"lon":-158.6,"lat":-7.7},{"lon":-155.9,"lat":-7.3},{"lon":-153.1,"lat":-7.6},{"lon":-150.3,"lat":-7.4},{"lon":-147.5,"lat":-7.8},{"lon":-144.6,"lat":-7.5},
{"lon":-178.6,"lat":-6.0},{"lon":-176.1,"lat":-5.8},{"lon":-173.5,"lat":-6.2},{"lon":-171.0,"lat":-5.9},{"lon":-168.4,"lat":-6.1},{"lon":-165.7,"lat":-5.7},{"lon":-163.1,"lat":-6.3},{"lon":-160.5,"lat":-6.0},{"lon":-157.8,"lat":-5.8},{"lon":-155.1,"lat":-6.2},{"lon":-152.3,"lat":-5.9},{"lon":-149.5,"lat":-6.1},{"lon":-146.7,"lat":-5.7},{"lon":-143.8,"lat":-6.2},
{"lon":-179.5,"lat":-4.5},{"lon":-177.0,"lat":-4.7},{"lon":-174.4,"lat":-4.3},{"lon":-171.8,"lat":-4.6},{"lon":-169.3,"lat":-4.4},{"lon":-166.7,"lat":-4.8},{"lon":-164.1,"lat":-4.2},{"lon":-161.4,"lat":-4.5},{"lon":-158.7,"lat":-4.7},{"lon":-156.0,"lat":-4.3},{"lon":-153.4,"lat":-4.6},{"lon":-150.7,"lat":-4.4},{"lon":-147.9,"lat":-4.8},{"lon":-145.0,"lat":-4.2},
{"lon":-178.7,"lat":-3.0},{"lon":-176.2,"lat":-2.8},{"lon":-173.6,"lat":-3.2},{"lon":-171.1,"lat":-2.9},{"lon":-168.5,"lat":-3.1},{"lon":-165.9,"lat":-2.7},{"lon":-163.2,"lat":-3.3},{"lon":-160.6,"lat":-3.0},{"lon":-157.9,"lat":-2.8},{"lon":-155.2,"lat":-3.2},{"lon":-152.5,"lat":-2.9},{"lon":-149.8,"lat":-3.1},{"lon":-146.9,"lat":-2.7},
{"lon":-179.4,"lat":-1.5},{"lon":-176.9,"lat":-1.7},{"lon":-174.3,"lat":-1.3},{"lon":-171.8,"lat":-1.6},{"lon":-169.2,"lat":-1.4},{"lon":-166.6,"lat":-1.8},{"lon":-164.0,"lat":-1.2},{"lon":-161.3,"lat":-1.5},{"lon":-158.6,"lat":-1.7},{"lon":-155.9,"lat":-1.3},{"lon":-153.2,"lat":-1.6},{"lon":-150.5,"lat":-1.4},{"lon":-147.7,"lat":-1.8},
{"lon":-178.6,"lat":0.0},{"lon":-176.1,"lat":0.2},{"lon":-173.6,"lat":-0.2},{"lon":-171.0,"lat":0.1},{"lon":-168.4,"lat":-0.1},{"lon":-165.8,"lat":0.3},{"lon":-163.2,"lat":-0.3},{"lon":-160.5,"lat":0.0},{"lon":-157.8,"lat":0.2},{"lon":-155.1,"lat":-0.2},{"lon":-152.4,"lat":0.1},{"lon":-149.6,"lat":-0.1},{"lon":-146.8,"lat":0.3},
{"lon":-179.5,"lat":1.5},{"lon":-177.0,"lat":1.3},{"lon":-174.4,"lat":1.7},{"lon":-171.9,"lat":1.4},{"lon":-169.3,"lat":1.6},{"lon":-166.7,"lat":1.2},{"lon":-164.1,"lat":1.8},{"lon":-161.4,"lat":1.5},{"lon":-158.7,"lat":1.3},{"lon":-156.0,"lat":1.7},{"lon":-153.3,"lat":1.4},{"lon":-150.6,"lat":1.6},{"lon":-147.8,"lat":1.2},
{"lon":-178.7,"lat":3.0},{"lon":-176.2,"lat":3.2},{"lon":-173.7,"lat":2.8},{"lon":-171.1,"lat":3.1},{"lon":-168.5,"lat":2.9},{"lon":-165.9,"lat":3.3},{"lon":-163.3,"lat":2.7},{"lon":-160.6,"lat":3.0},{"lon":-157.9,"lat":3.2},{"lon":-155.2,"lat":2.8},{"lon":-152.5,"lat":3.1},{"lon":-149.7,"lat":2.9},
{"lon":-179.4,"lat":4.5},{"lon":-176.9,"lat":4.3},{"lon":-174.4,"lat":4.7},{"lon":-171.8,"lat":4.4},{"lon":-169.2,"lat":4.6},{"lon":-166.6,"lat":4.2},{"lon":-164.0,"lat":4.8},{"lon":-161.3,"lat":4.5},{"lon":-158.6,"lat":4.3},{"lon":-155.9,"lat":4.7},{"lon":-153.2,"lat":4.4},{"lon":-150.4,"lat":4.6},
{"lon":-178.6,"lat":6.0},{"lon":-176.1,"lat":6.2},{"lon":-173.5,"lat":5.8},{"lon":-171.0,"lat":6.1},{"lon":-168.4,"lat":5.9},{"lon":-165.7,"lat":6.3},{"lon":-163.1,"lat":5.7},{"lon":-160.4,"lat":6.0},{"lon":-157.7,"lat":6.2},{"lon":-155.0,"lat":5.8},{"lon":-152.2,"lat":6.1},
{"lon":-179.5,"lat":7.5},{"lon":-177.0,"lat":7.3},{"lon":-174.4,"lat":7.7},{"lon":-171.8,"lat":7.4},{"lon":-169.2,"lat":7.6},{"lon":-166.5,"lat":7.2},{"lon":-163.8,"lat":7.8},{"lon":-161.0,"lat":7.5},{"lon":-158.3,"lat":7.3},{"lon":-155.6,"lat":7.7},
{"lon":-178.7,"lat":9.0},{"lon":-176.2,"lat":9.2},{"lon":-173.6,"lat":8.8},{"lon":-171.0,"lat":9.1},{"lon":-168.4,"lat":8.9},{"lon":-165.7,"lat":9.3},{"lon":-163.0,"lat":8.7},{"lon":-160.3,"lat":9.0},{"lon":-157.6,"lat":9.2},
{"lon":-179.4,"lat":10.5},{"lon":-176.9,"lat":10.3},{"lon":-174.3,"lat":10.7},{"lon":-171.7,"lat":10.4},{"lon":-169.1,"lat":10.6},{"lon":-166.4,"lat":10.2},{"lon":-163.7,"lat":10.8},{"lon":-161.0,"lat":10.5},{"lon":-158.2,"lat":10.3},
{"lon":-178.6,"lat":12.0},{"lon":-176.1,"lat":12.2},{"lon":-173.5,"lat":11.8},{"lon":-170.9,"lat":12.1},{"lon":-168.2,"lat":11.9},{"lon":-165.5,"lat":12.3},{"lon":-162.8,"lat":11.7},{"lon":-160.1,"lat":12.0},
{"lon":-179.5,"lat":13.5},{"lon":-177.0,"lat":13.3},{"lon":-174.3,"lat":13.7},{"lon":-171.6,"lat":13.4},{"lon":-168.9,"lat":13.6},{"lon":-166.2,"lat":13.2},{"lon":-163.5,"lat":13.8},
{"lon":-178.7,"lat":15.0},{"lon":-176.1,"lat":15.2},{"lon":-173.4,"lat":14.8},{"lon":-170.7,"lat":15.1},{"lon":-168.0,"lat":14.9},{"lon":-165.3,"lat":15.3},
{"lon":-179.4,"lat":16.5},{"lon":-176.8,"lat":16.3},{"lon":-174.0,"lat":16.7},{"lon":-171.3,"lat":16.4},{"lon":-168.6,"lat":16.6},
{"lon":-178.6,"lat":18.0},{"lon":-175.9,"lat":18.2},{"lon":-173.2,"lat":17.8},{"lon":-170.5,"lat":18.1},
{"lon":-179.5,"lat":19.5},{"lon":-176.9,"lat":19.7},{"lon":-174.2,"lat":19.3},{"lon":-171.5,"lat":19.6},
{"lon":-179.0,"lat":21.0},{"lon":-176.3,"lat":21.2},{"lon":-173.6,"lat":20.8},{"lon":-178.3,"lat":22.6},
{"lon":-177.8,"lat":21.8},{"lon":-174.6,"lat":22.9},{"lon":-171.2,"lat":20.6},{"lon":-168.3,"lat":19.1},{"lon":-165.4,"lat":17.2},{"lon":-167.9,"lat":22.4},{"lon":-163.2,"lat":20.7},{"lon":-160.9,"lat":18.3},{"lon":-178.9,"lat":24.6},{"lon":-175.7,"lat":25.9},{"lon":-172.4,"lat":24.2},{"lon":-169.6,"lat":26.3},{"lon":-166.2,"lat":25.1},{"lon":-162.8,"lat":23.8},{"lon":-159.4,"lat":22.1},{"lon":-177.1,"lat":28.3},{"lon":-173.3,"lat":27.6},{"lon":-170.1,"lat":29.2},{"lon":-164.5,"lat":28.7},{"lon":-161.3,"lat":27.0},{"lon":-157.6,"lat":26.2},{"lon":-155.1,"lat":24.4},{"lon":-158.3,"lat":19.6},{"lon":-155.7,"lat":17.9},{"lon":-162.7,"lat":14.7},{"lon":-160.1,"lat":13.1},{"lon":-157.2,"lat":15.3},{"lon":-153.8,"lat":14.2},{"lon":-151.1,"lat":16.6},{"lon":-148.4,"lat":18.2},{"lon":-146.0,"lat":21.4},{"lon":-143.2,"lat":23.6},{"lon":-152.6,"lat":21.7},{"lon":-149.7,"lat":24.1},{"lon":-146.8,"lat":26.3},{"lon":-150.3,"lat":12.4},{"lon":-147.5,"lat":13.9},{"lon":-144.6,"lat":15.7},{"lon":-141.8,"lat":17.5},{"lon":-139.1,"lat":19.8},{"lon":-155.6,"lat":10.6},{"lon":-152.9,"lat":8.8},{"lon":-150.1,"lat":9.9},{"lon":-147.2,"lat":7.6},{"lon":-144.3,"lat":10.2},{"lon":-141.5,"lat":11.6},{"lon":-138.7,"lat":13.4},{"lon":-136.0,"lat":15.1},{"lon":-158.1,"lat":7.2},{"lon":-156.8,"lat":4.6},{"lon":-154.1,"lat":5.9},{"lon":-151.2,"lat":3.7},{"lon":-148.5,"lat":5.2},{"lon":-145.6,"lat":2.9},{"lon":-142.7,"lat":4.8},{"lon":-139.9,"lat":6.6},{"lon":-137.1,"lat":8.4},{"lon":-134.3,"lat":10.7},{"lon":-131.6,"lat":12.8},{"lon":-150.0,"lat":1.2},{"lon":-147.1,"lat":-0.4},{"lon":-144.3,"lat":0.8},{"lon":-141.4,"lat":-1.1},{"lon":-138.6,"lat":1.7},{"lon":-135.8,"lat":-0.3},{"lon":-133.0,"lat":2.6},{"lon":-130.2,"lat":4.1},{"lon":-128.4,"lat":0.6},{"lon":-150.4,"lat":-2.2},{"lon":-147.6,"lat":-3.6},{"lon":-144.8,"lat":-2.0},{"lon":-141.9,"lat":-4.5},{"lon":-139.1,"lat":-3.1},{"lon":-136.3,"lat":-5.2},{"lon":-133.5,"lat":-2.4},{"lon":-130.7,"lat":-4.0},{"lon":-149.3,"lat":-5.8},{"lon":-146.4,"lat":-7.3},{"lon":-143.6,"lat":-6.0},{"lon":-140.7,"lat":-8.4},{"lon":-137.9,"lat":-7.1},{"lon":-135.0,"lat":-9.8},{"lon":-132.3,"lat":-6.7},{"lon":-151.7,"lat":-9.1},{"lon":-148.9,"lat":-10.7},{"lon":-146.0,"lat":-12.3},{"lon":-143.1,"lat":-10.1},{"lon":-140.3,"lat":-12.8},{"lon":-154.0,"lat":-13.2},{"lon":-151.2,"lat":-14.9},{"lon":-148.3,"lat":-13.6},{"lon":-145.4,"lat":-15.8},{"lon":-156.5,"lat":-16.4},{"lon":-153.5,"lat":-18.1},{"lon":-158.9,"lat":-19.2},{"lon":-161.5,"lat":-17.6},{"lon":-164.2,"lat":-19.3},{"lon":-167.0,"lat":-18.0},{"lon":-169.8,"lat":-19.6},{"lon":-172.6,"lat":-18.2},{"lon":-175.3,"lat":-19.7},{"lon":-178.1,"lat":-18.5},{"lon":-162.9,"lat":-21.1},{"lon":-165.8,"lat":-22.6},{"lon":-157.0,"lat":-21.8},{"lon":-160.5,"lat":-23.3},{"lon":-170.3,"lat":-21.8},{"lon":-174.0,"lat":-23.0},{"lon":-177.0,"lat":-24.8},{"lon":-163.7,"lat":-26.1},{"lon":-175.6,"lat":-27.2},{"lon":-126.5,"lat":22.4},{"lon":-129.3,"lat":19.1},{"lon":-131.8,"lat":24.8},{"lon":-134.6,"lat":21.6},{"lon":-137.4,"lat":25.2},{"lon":-140.1,"lat":27.9},{"lon":-142.8,"lat":29.6},{"lon":-136.2,"lat":28.3},{"lon":-130.4,"lat":15.8},{"lon":-127.1,"lat":9.3},{"lon":-124.2,"lat":17.7},{"lon":-119.2,"lat":-3.4},{"lon":-121.8,"lat":-0.8},{"lon":-124.6,"lat":-3.9},{"lon":-127.3,"lat":-1.6},{"lon":-129.8,"lat":-2.9},{"lon":-116.5,"lat":-0.9},{"lon":-126.1,"lat":-5.2},{"lon":-131.9,"lat":-6.1}
]},
"mark":{"type":"circle","color":"#dd0000","opacity":1,"size":76,"clip":true},
"encoding":{
"x":{"field":"lon","type":"quantitative","scale":{"domain":[-180,180],"reverse":true,"nice":false,"zero":false},
"axis":{"orient":"bottom","values":[-180,-170,-160,-150,-140,-130,-120,-110,-100,-90,-80,-70,-60,-50,-40,-30,-20,-10,0,10,20,30,40,50,60,70,80,90,100,110,120,130,140,150,160,170,180],
"tickSize":{"condition":{"test":"datum.value % 60 === 0","value":-31},"value":-15},
"labelOffset":{"condition":{"test":"datum.value === -180","value":-9},"value":0},
"labelExpr":"datum.value % 60 === 0 ? (datum.value > 0 ? '+' + datum.value : '' + datum.value) : ''",
"labelPadding":55,"title":"Ecliptic longitude difference from Sun","titleY":121,"titleBaseline":"alphabetic"}},
"y":{"field":"lat","type":"quantitative","scale":{"domain":[-90,90],"nice":false,"zero":false},
"axis":{"orient":"left","values":[-90,-80,-70,-60,-50,-40,-30,-20,-10,0,10,20,30,40,50,60,70,80,90],
"tickSize":{"condition":{"test":"datum.value % 30 === 0","value":-31},"value":-15},
"labelExpr":"datum.value % 30 === 0 ? '' + datum.value : ''",
"labelPadding":52,"title":"Ecliptic latitude","titleX":-147,"titleY":452,"titleAngle":-90,"titleBaseline":"alphabetic","titleAlign":"center"}}
}},
{"data":{"values":[{"lat":0}]},
"mark":{"type":"rule","color":"#000","strokeWidth":1.5},
"encoding":{"y":{"field":"lat","type":"quantitative","scale":{"domain":[-90,90],"nice":false,"zero":false},"axis":null}}},
{"data":{"values":[{"lon":0,"lat":0}]},
"mark":{"type":"circle","color":"#eeee00","opacity":1,"size":3844},
"encoding":{
"x":{"field":"lon","type":"quantitative","scale":{"domain":[-180,180],"reverse":true,"nice":false,"zero":false},
"axis":{"orient":"top","values":[-180,-170,-160,-150,-140,-130,-120,-110,-100,-90,-80,-70,-60,-50,-40,-30,-20,-10,0,10,20,30,40,50,60,70,80,90,100,110,120,130,140,150,160,170,180],
"tickSize":{"condition":{"test":"datum.value % 60 === 0","value":-31},"value":-15},"labels":false,"title":null}},
"y":{"field":"lat","type":"quantitative","scale":{"domain":[-90,90],"nice":false,"zero":false},
"axis":{"orient":"right","values":[-90,-80,-70,-60,-50,-40,-30,-20,-10,0,10,20,30,40,50,60,70,80,90],
"tickSize":{"condition":{"test":"datum.value % 30 === 0","value":-31},"value":-15},"labels":false,"title":null}}
}}
]
}
